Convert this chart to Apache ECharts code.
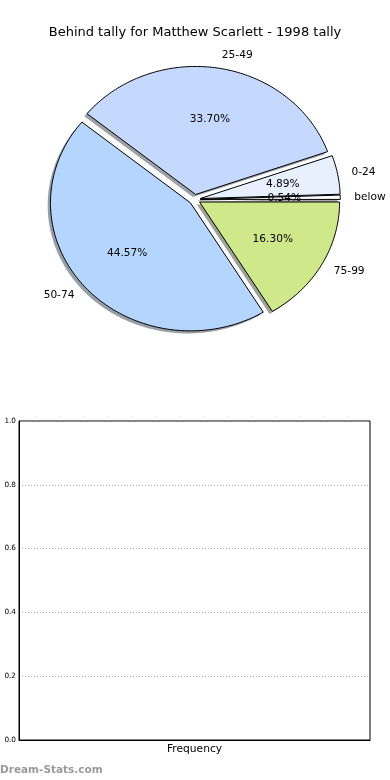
<!DOCTYPE html>
<html><head><meta charset="utf-8">
<script src="https://cdn.jsdelivr.net/npm/echarts@6/dist/echarts.min.js"></script>
<style>html,body{margin:0;padding:0;background:#fff}#c{width:390px;height:780px}</style>
</head><body><div id="c"></div>
<script>
const chartTitle = 'Behind tally for Matthew Scarlett - 1998 tally';
const categories = ['below', '0-24', '25-49', '50-74', '75-99'];
const percents = [0.54, 4.89, 33.70, 44.57, 16.30];
const sliceColors = ['#ffffff', '#e8f0fe', '#c5d9fe', '#b4d6fe', '#cfe98a'];
const yTicks = [0.0, 0.2, 0.4, 0.6, 0.8, 1.0];
const xLabel = 'Frequency';
const watermark = 'Dream-Stats.com';

const total = percents.reduce((a, b) => a + b, 0);
const starts = []; let acc = 0; percents.forEach(p => { starts.push(acc); acc += p; });
const pieData = percents.map((p, i) => ({ name: categories[i], value: [p, starts[i]] }));

const EXPLODE = 0.04, LABEL_R = 1.1, PCT_R = 0.6, SHADOW = 0.02;
const RX = 140, RY = 128, CX = 194.7, CY = 199.5, SPAN = 1.3;
const FONT = '"DejaVu Sans", sans-serif';

function angles(api) {
  const v = api.value(0), s = api.value(1);
  const a0 = s / total * 2 * Math.PI, a1 = (s + v) / total * 2 * Math.PI;
  return [a0, a1, (a0 + a1) / 2, v];
}
function wedge(api, ox, oy, a0, a1) {
  const pts = [api.coord([ox, oy])];
  const n = Math.max(2, Math.ceil((a1 - a0) / (Math.PI / 180)));
  for (let k = 0; k <= n; k++) {
    const t = a0 + (a1 - a0) * k / n;
    pts.push(api.coord([ox + Math.cos(t), oy + Math.sin(t)]));
  }
  return pts;
}
function darker(hex) {
  const r = parseInt(hex.slice(1, 3), 16), g = parseInt(hex.slice(3, 5), 16), b = parseInt(hex.slice(5, 7), 16);
  return `rgba(${Math.round(r * 0.3)},${Math.round(g * 0.3)},${Math.round(b * 0.3)},0.5)`;
}

const chart = echarts.init(document.getElementById('c'), null, { renderer: 'canvas' });
chart.setOption({
  animation: false,
  backgroundColor: '#fff',
  title: {
    text: chartTitle, left: 'center', top: 21,
    textStyle: { fontFamily: FONT, fontSize: 13, fontWeight: 'normal', color: '#000' }
  },
  grid: [
    { left: CX - SPAN * RX, top: CY - SPAN * RY, width: 2 * SPAN * RX, height: 2 * SPAN * RY, show: false },
    { left: 19, top: 421, width: 351, height: 319, show: true, borderColor: '#000', borderWidth: 1, backgroundColor: 'transparent' }
  ],
  xAxis: [
    { gridIndex: 0, type: 'value', min: -SPAN, max: SPAN, show: false },
    {
      gridIndex: 1, type: 'value', min: 0, max: 1,
      name: xLabel, nameLocation: 'middle', nameGap: 4,
      nameTextStyle: { fontFamily: FONT, fontSize: 10.7, color: '#000', verticalAlign: 'top' },
      axisLine: { show: true, lineStyle: { color: '#000', width: 1 } },
      axisTick: { show: false }, axisLabel: { show: false }, splitLine: { show: false }
    }
  ],
  yAxis: [
    { gridIndex: 0, type: 'value', min: -SPAN, max: SPAN, show: false },
    {
      gridIndex: 1, type: 'value', min: yTicks[0], max: yTicks[yTicks.length - 1], interval: 0.2,
      axisLine: { show: true, lineStyle: { color: '#000', width: 1 } },
      axisTick: { show: false },
      axisLabel: { fontFamily: FONT, fontSize: 7.3, color: '#000', margin: 3, formatter: v => v.toFixed(1) },
      splitLine: { show: true, lineStyle: { color: '#aaa', width: 1, type: [1, 2] } }
    }
  ],
  graphic: [{
    type: 'text', left: 0, top: 765,
    style: { text: watermark, fill: '#9a9a9a', font: 'bold 10.5px ' + FONT }
  }],
  series: [
    {
      type: 'custom', xAxisIndex: 0, yAxisIndex: 0, clip: false, z: 1, silent: true,
      data: pieData,
      renderItem(params, api) {
        const [a0, a1, m] = angles(api);
        const ox = EXPLODE * Math.cos(m) - SHADOW, oy = EXPLODE * Math.sin(m) - SHADOW;
        return { type: 'polygon', shape: { points: wedge(api, ox, oy, a0, a1) },
          style: { fill: darker(sliceColors[params.dataIndex]), stroke: null } };
      }
    },
    {
      type: 'custom', xAxisIndex: 0, yAxisIndex: 0, clip: false, z: 2, silent: true,
      data: pieData,
      renderItem(params, api) {
        const [a0, a1, m] = angles(api);
        const ox = EXPLODE * Math.cos(m), oy = EXPLODE * Math.sin(m);
        return { type: 'polygon', shape: { points: wedge(api, ox, oy, a0, a1) },
          style: { fill: sliceColors[params.dataIndex], stroke: '#000', lineWidth: 1, lineJoin: 'miter' } };
      }
    },
    {
      type: 'custom', xAxisIndex: 0, yAxisIndex: 0, clip: false, z: 3, silent: true,
      data: pieData,
      renderItem(params, api) {
        const [a0, a1, m, v] = angles(api);
        const ox = EXPLODE * Math.cos(m), oy = EXPLODE * Math.sin(m);
        const lx = ox + LABEL_R * Math.cos(m), ly = oy + LABEL_R * Math.sin(m);
        const lp = api.coord([lx, ly]);
        const pp = api.coord([ox + PCT_R * Math.cos(m), oy + PCT_R * Math.sin(m)]);
        return { type: 'group', children: [
          { type: 'text', x: pp[0], y: pp[1], style: { text: v.toFixed(2) + '%', font: '10.6px ' + FONT, fill: '#000', align: 'center', verticalAlign: 'middle' } },
          { type: 'text', x: lp[0], y: lp[1], style: { text: categories[params.dataIndex], font: '10.6px ' + FONT, fill: '#000', align: lx > 0 ? 'left' : 'right', verticalAlign: 'middle' } }
        ] };
      }
    }
  ]
});
</script></body></html>
